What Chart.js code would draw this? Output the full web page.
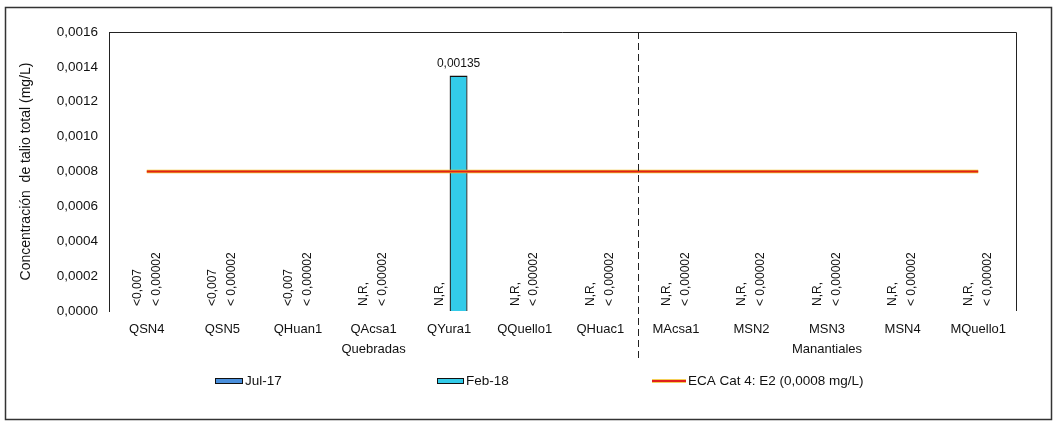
<!DOCTYPE html>
<html>
<head>
<meta charset="utf-8">
<script src="https://cdn.jsdelivr.net/npm/chart.js@4/dist/chart.umd.min.js"></script>
<style>
  body { margin: 0; background: #fff; }
  canvas { display: block; }
</style>
</head>
<body>
<canvas id="Chart" width="1057" height="423"></canvas>
<script>
  // data
  const estaciones = ["QSN4", "QSN5", "QHuan1", "QAcsa1", "QYura1", "QQuello1", "QHuac1",
                      "MAcsa1", "MSN2", "MSN3", "MSN4", "MQuello1"];
  const jul17 = [null, null, null, null, null, null, null, null, null, null, null, null];
  const feb18 = [null, null, null, null, 0.00135, null, null, null, null, null, null, null];
  const eca = [0.0008, 0.0008, 0.0008, 0.0008, 0.0008, 0.0008, 0.0008, 0.0008, 0.0008, 0.0008, 0.0008, 0.0008];
  const notaJul = ["<0,007", "<0,007", "<0,007", "N,R,", "N,R,", "N,R,", "N,R,", "N,R,", "N,R,", "N,R,", "N,R,", "N,R,"];
  const notaFeb = ["< 0,00002", "< 0,00002", "< 0,00002", "< 0,00002", "", "< 0,00002", "< 0,00002",
                   "< 0,00002", "< 0,00002", "< 0,00002", "< 0,00002", "< 0,00002"];
  const grupos = [
    { nombre: "Quebradas", desde: 0, hasta: 6 },
    { nombre: "Manantiales", desde: 7, hasta: 11 },
  ];

  const FONT = "'Liberation Sans', Arial, sans-serif";
  const fmt = (v) => v.toFixed(4).replace(".", ",");

  const extras = {
    id: "extras",
    beforeDraw(chart) {
      const c = chart.ctx;
      c.save();
      c.fillStyle = "#fff";
      c.fillRect(0, 0, chart.width, chart.height);
      c.strokeStyle = "#333";
      c.lineWidth = 1.5;
      c.strokeRect(5.5, 7.5, 1046, 412);
      c.restore();
    },
    afterDatasetsDraw(chart) {
      const c = chart.ctx;
      const a = chart.chartArea;
      const x = chart.scales.x;
      c.save();

      // top and right frame
      c.strokeStyle = "#222";
      c.lineWidth = 1;
      c.beginPath();
      c.moveTo(a.left, a.top + 0.5);
      c.lineTo(a.right + 0.5, a.top + 0.5);
      c.lineTo(a.right + 0.5, a.bottom);
      c.stroke();

      // dashed divider between groups
      const xd = Math.round((x.getPixelForValue(6) + x.getPixelForValue(7)) / 2) + 0.5;
      c.setLineDash([7, 4]);
      c.beginPath();
      c.moveTo(xd, a.top);
      c.lineTo(xd, 358);
      c.stroke();
      c.setLineDash([]);

      // rotated notes at the foot of each bar slot
      const mJul = chart.getDatasetMeta(0);
      const mFeb = chart.getDatasetMeta(1);
      c.fillStyle = "#111";
      c.font = "12px " + FONT;
      c.textAlign = "left";
      c.textBaseline = "middle";
      estaciones.forEach((e, i) => {
        [[mJul, notaJul[i]], [mFeb, notaFeb[i]]].forEach(([m, t]) => {
          if (!t) return;
          const bx = m.data[i].x;
          c.save();
          c.translate(bx, a.bottom - 5);
          c.rotate(-Math.PI / 2);
          c.fillText(t, 0, 0);
          c.restore();
        });
      });

      // value label on the Feb-18 bar
      c.textAlign = "center";
      c.textBaseline = "bottom";
      c.font = "12px " + FONT;
      feb18.forEach((v, i) => {
        if (v == null) return;
        const b = mFeb.data[i];
        c.fillText(String(v).replace(".", ","), b.x, b.y - 6);
      });

      // group labels
      c.textBaseline = "middle";
      c.font = "13px " + FONT;
      grupos.forEach((g) => {
        const gx = (x.getPixelForValue(g.desde) + x.getPixelForValue(g.hasta)) / 2;
        c.fillText(g.nombre, gx, 349);
      });

      // legend
      const ly = 381;
      c.textAlign = "left";
      c.font = "13.5px " + FONT;
      c.lineWidth = 1;
      c.strokeStyle = "#111";
      c.fillStyle = "#4a8fdc";
      c.fillRect(215, ly - 3, 28, 6);
      c.strokeRect(215.5, ly - 2.5, 27, 5);
      c.fillStyle = "#111";
      c.fillText("Jul-17", 245, ly);
      c.fillStyle = "#33cbe9";
      c.fillRect(437, ly - 3, 27, 6);
      c.strokeRect(437.5, ly - 2.5, 26, 5);
      c.fillStyle = "#111";
      c.fillText("Feb-18", 466, ly);
      c.strokeStyle = "#f0c020";
      c.lineWidth = 3.5;
      c.beginPath(); c.moveTo(652, ly); c.lineTo(686, ly); c.stroke();
      c.strokeStyle = "#e0201b";
      c.lineWidth = 2;
      c.beginPath(); c.moveTo(652, ly); c.lineTo(686, ly); c.stroke();
      c.fillText("ECA Cat 4: E2 (0,0008 mg/L)", 688, ly);

      c.restore();
    },
  };

  const ctx = document.getElementById("Chart").getContext("2d");
  new Chart(ctx, {
    data: {
      labels: estaciones,
      datasets: [
        {
          type: "bar",
          label: "Jul-17",
          data: jul17,
          backgroundColor: "#4a8fdc",
          borderColor: "#111",
          borderWidth: 1,
          categoryPercentage: 0.5,
          barPercentage: 0.95,
          order: 3,
        },
        {
          type: "bar",
          label: "Feb-18",
          data: feb18,
          backgroundColor: "#33cbe9",
          borderColor: "#111",
          borderWidth: 1.3,
          categoryPercentage: 0.5,
          barPercentage: 0.95,
          order: 3,
        },
        {
          type: "line",
          label: "ECA halo",
          data: eca,
          borderColor: "#f0c020",
          borderWidth: 3.5,
          pointRadius: 0,
          order: 2,
        },
        {
          type: "line",
          label: "ECA Cat 4: E2 (0,0008 mg/L)",
          data: eca,
          borderColor: "#e0201b",
          borderWidth: 2,
          pointRadius: 0,
          order: 1,
        },
      ],
    },
    options: {
      responsive: false,
      animation: false,
      layout: { padding: { top: 32, right: 41, bottom: 0, left: 0 } },
      plugins: {
        legend: { display: false },
        tooltip: { enabled: false },
      },
      scales: {
        x: {
          offset: true,
          grid: { display: false, drawTicks: false },
          border: { display: false },
          ticks: {
            color: "#111",
            padding: 11,
            maxRotation: 0,
            autoSkip: false,
            font: { family: FONT, size: 13 },
          },
          afterFit: (s) => { s.height = 112; },
        },
        y: {
          min: 0,
          max: 0.0016,
          grid: { display: false, drawTicks: false },
          border: { display: true, color: "#222", width: 1 },
          ticks: {
            stepSize: 0.0002,
            color: "#111",
            padding: 11,
            font: { family: FONT, size: 13.5 },
            callback: (v) => fmt(v),
          },
          title: {
            display: true,
            text: "Concentración  de talio total (mg/L)",
            color: "#111",
            padding: { top: 18, bottom: 0 },
            font: { family: FONT, size: 14 },
          },
          afterFit: (s) => { s.width = 109; },
        },
      },
    },
    plugins: [extras],
  });
</script>
</body>
</html>
